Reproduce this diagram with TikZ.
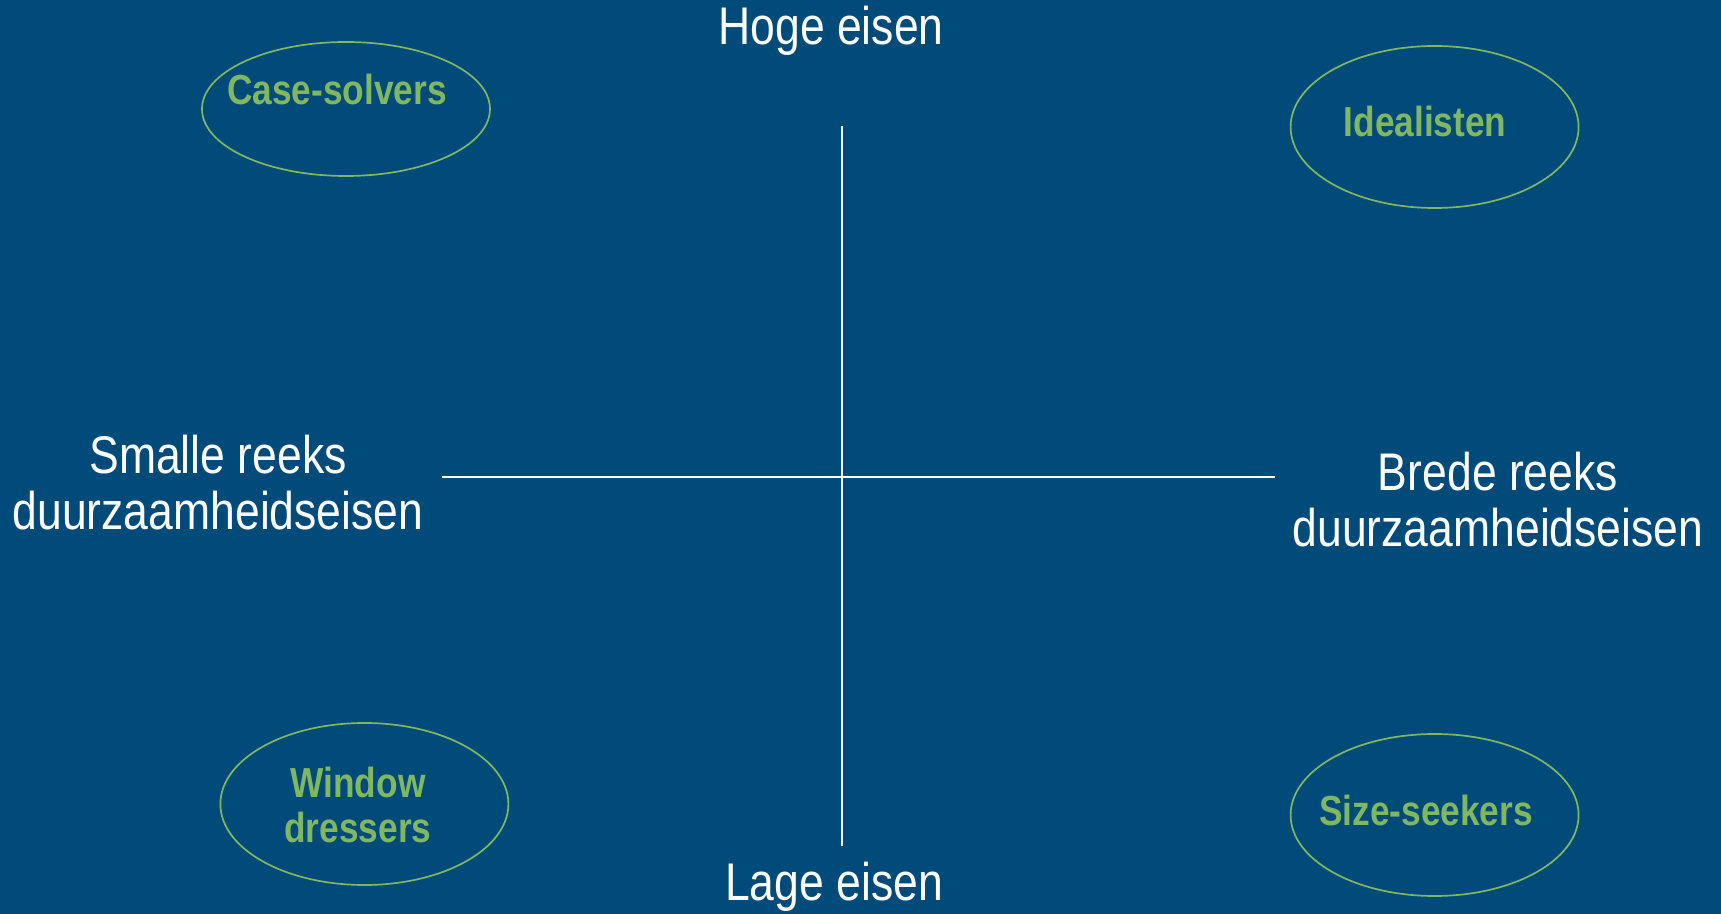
\documentclass[tikz,border=0pt]{standalone}
\usepackage{fontspec}
\setmainfont[FakeStretch=0.84]{Liberation Sans}
\usetikzlibrary{shapes.geometric}
\definecolor{bgblue}{RGB}{0,75,122}
\definecolor{lgreen}{RGB}{128,183,96}
\begin{document}
\begin{tikzpicture}[x=0.5pt,y=-0.5pt,
  axis/.style={draw=white,line width=0.75pt},
  seg/.style={ellipse,draw=lgreen,line width=0.85pt,inner sep=0pt,minimum width=144pt,minimum height=81pt},
  segtext/.style={text=lgreen,font=\fontsize{21pt}{22.5pt}\selectfont\bfseries,align=center,inner sep=0pt},
  lbl/.style={text=white,font=\fontsize{26.5pt}{28pt}\selectfont,align=center,inner sep=0pt}]
\fill[bgblue] (0,0) rectangle (1721,914);
\useasboundingbox (0,0) rectangle (1721,914);
\coordinate (vt) at (842,126);
\coordinate (vb) at (842,846);
\coordinate (hl) at (442,477);
\coordinate (hr) at (1275,477);
\draw[axis] (vt) -- (vb);
\draw[axis] (hl) -- (hr);
\node[lbl] (hoge) at (831,31) {Hoge eisen};
\node[lbl] (lage) at (834,887) {Lage eisen};
\node[lbl] (smalle) at (218,483) {Smalle reeks\\duurzaamheidseisen};
\node[lbl] (brede) at (1498,500) {Brede reeks\\duurzaamheidseisen};
\node[seg,minimum height=67pt] (cs) at (346,109) {};
\node[seg] (id) at (1434.6,127) {};
\node[seg] (wd) at (364.4,804) {};
\node[seg] (ss) at (1434.6,815) {};
\node[segtext] (cst) at (337,89) {Case-solvers};
\node[segtext] (idt) at (1425,121) {Idealisten};
\node[segtext] (wdt) at (358,805) {Window\\dressers};
\node[segtext] (sst) at (1426,810) {Size-seekers};
\end{tikzpicture}
\end{document}
